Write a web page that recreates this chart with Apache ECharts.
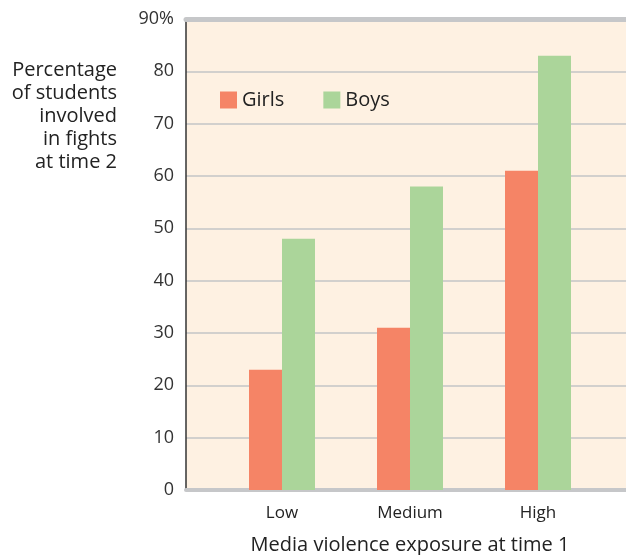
<!DOCTYPE html>
<html>
<head>
<meta charset="utf-8">
<script src="https://cdn.jsdelivr.net/npm/echarts@6/dist/echarts.min.js"></script>
<style>html,body{margin:0;padding:0;background:#fff}#c{width:626px;height:555px}</style>
</head>
<body>
<div id="c"></div>
<script>
var categories = ['Low', 'Medium', 'High'];
var girls = [23, 31, 61];
var boys = [48, 58, 83];
var yTicks = [0, 10, 20, 30, 40, 50, 60, 70, 80, 90];
var yTitleLines = ['Percentage', 'of students', 'involved', 'in fights', 'at time 2'];
var xTitle = 'Media violence exposure at time 1';

var FONT = '"Open Sans", "Noto Sans", sans-serif';
var chart = echarts.init(document.getElementById('c'), null, {renderer: 'canvas'});
var TOP = 19, BOTTOM = 65;
chart.setOption({
  animation: false,
  textStyle: {fontFamily: FONT},
  grid: [
    {left: 186, right: 0, top: TOP, bottom: BOTTOM, show: true, backgroundColor: '#fef1e2', borderWidth: 0,
     outerBoundsMode: 'none', containLabel: false},
    {left: 218, width: 384, top: TOP, bottom: BOTTOM, outerBoundsMode: 'none', containLabel: false}
  ],
  legend: {
    left: 215, top: 85, itemWidth: 17, itemHeight: 17, itemGap: 39,
    icon: 'rect',
    textStyle: {fontSize: 20, color: '#222', fontFamily: FONT},
    data: ['Girls', 'Boys']
  },
  xAxis: [
    {gridIndex: 0, type: 'category', data: [''], position: 'bottom',
     axisLine: {show: true, lineStyle: {color: '#c6c7c9', width: 4}}, axisTick: {show: false}, axisLabel: {show: false}},
    {gridIndex: 0, type: 'category', data: [''], position: 'top',
     axisLine: {show: true, lineStyle: {color: '#c6c7c9', width: 5}}, axisTick: {show: false}, axisLabel: {show: false}},
    {gridIndex: 1, type: 'category', data: categories, position: 'bottom',
     axisLine: {show: false}, axisTick: {show: false},
     axisLabel: {fontSize: 17, color: '#222', margin: 15, fontFamily: FONT},
     name: xTitle, nameLocation: 'middle', nameGap: 45,
     nameTextStyle: {fontSize: 20, color: '#222', fontFamily: FONT}}
  ],
  yAxis: [
    {gridIndex: 0, type: 'value', min: yTicks[0], max: yTicks[yTicks.length - 1], interval: 10,
     axisLine: {show: true, lineStyle: {color: '#333', width: 1.5}}, axisTick: {show: false},
     axisLabel: {fontSize: 18, color: '#333', margin: 12, fontFamily: FONT,
       formatter: function (v) { return v === 90 ? '90%' : String(v); }},
     splitLine: {show: true, lineStyle: {color: '#d2d0cd', width: 2}}},
    {gridIndex: 1, type: 'value', min: 0, max: 90, interval: 10, show: false}
  ],
  series: [
    {name: 'Girls', type: 'bar', xAxisIndex: 2, yAxisIndex: 1, data: girls, barWidth: 33, barGap: '0%',
     itemStyle: {color: '#f58466'}},
    {name: 'Boys', type: 'bar', xAxisIndex: 2, yAxisIndex: 1, data: boys, barWidth: 33, barGap: '0%',
     itemStyle: {color: '#abd59a'}}
  ],
  graphic: [{
    type: 'text', x: 117, y: 59,
    style: {text: yTitleLines.join('\n'), fontSize: 20, lineHeight: 23, fill: '#222', align: 'right', fontFamily: FONT}
  }]
});
</script>
</body>
</html>
